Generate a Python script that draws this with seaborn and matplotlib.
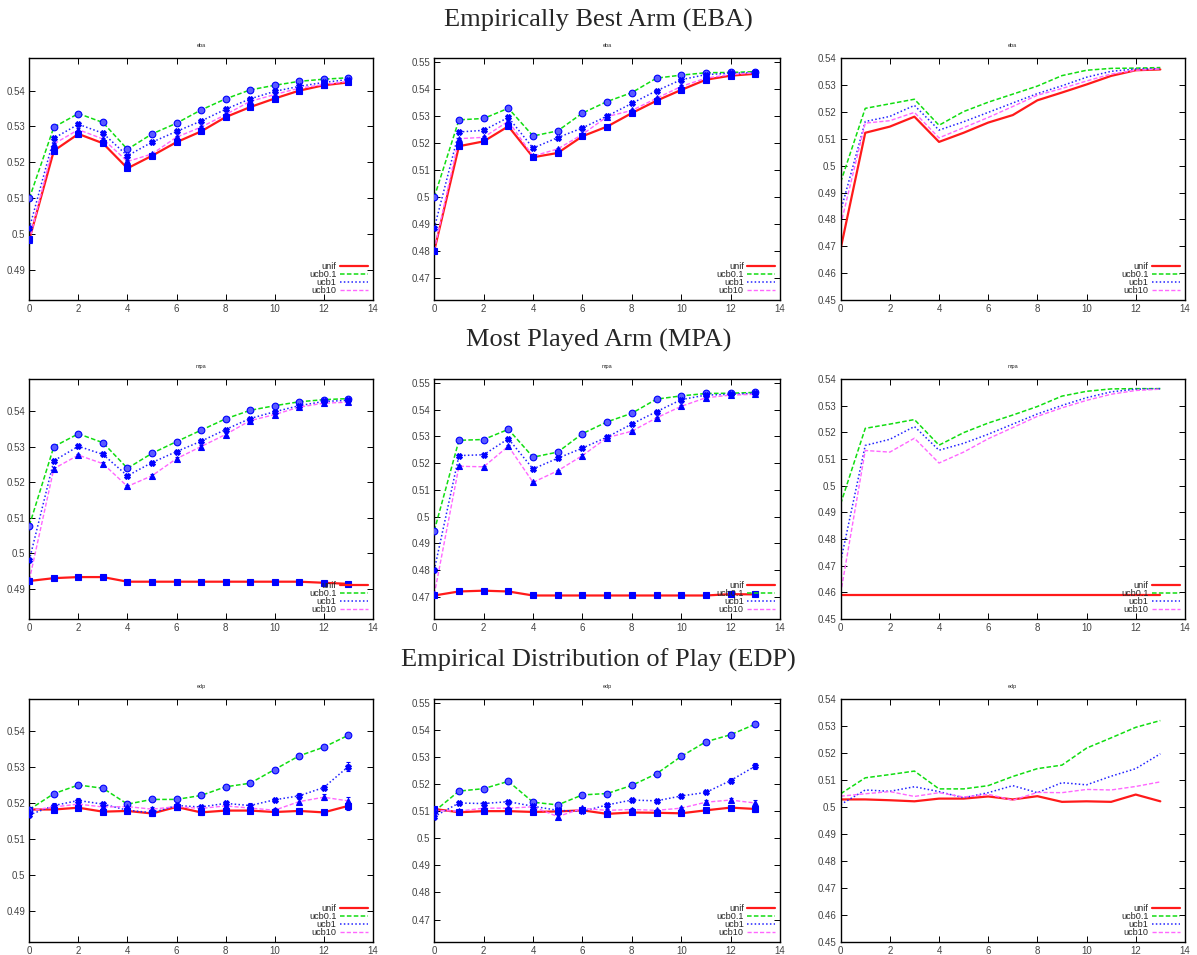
import numpy as np
import pandas as pd
import matplotlib
matplotlib.use("Agg")
import matplotlib.pyplot as plt
from matplotlib.ticker import MultipleLocator, FuncFormatter
import seaborn as sns

sns.set_style("ticks")
plt.rcParams["font.family"] = ["Liberation Sans", "DejaVu Sans"]

steps = list(range(14))
series = ["unif", "ucb0.1", "ucb1", "ucb10"]

# --- Empirically Best Arm ---
eba_a = {
    "unif":   [0.4984, 0.5232, 0.5279, 0.5253, 0.5183, 0.5218, 0.5256, 0.5286, 0.5326, 0.5354, 0.5378, 0.5400, 0.5415, 0.5423],
    "ucb0.1": [0.5099, 0.5298, 0.5336, 0.5311, 0.5236, 0.5279, 0.5309, 0.5346, 0.5377, 0.5402, 0.5415, 0.5426, 0.5432, 0.5436],
    "ucb1":   [0.5015, 0.5267, 0.5306, 0.5281, 0.5218, 0.5256, 0.5286, 0.5315, 0.5348, 0.5377, 0.5398, 0.5412, 0.5423, 0.5431],
    "ucb10":  [0.4982, 0.5251, 0.5291, 0.5265, 0.5202, 0.5223, 0.5270, 0.5298, 0.5333, 0.5370, 0.5389, 0.5407, 0.5417, 0.5426],
}
eba_b = {
    "unif":   [0.4800, 0.5188, 0.5206, 0.5262, 0.5147, 0.5163, 0.5225, 0.5261, 0.5311, 0.5357, 0.5397, 0.5435, 0.5450, 0.5457],
    "ucb0.1": [0.4999, 0.5286, 0.5291, 0.5329, 0.5226, 0.5245, 0.5311, 0.5354, 0.5387, 0.5441, 0.5452, 0.5461, 0.5462, 0.5465],
    "ucb1":   [0.4884, 0.5241, 0.5247, 0.5295, 0.5181, 0.5220, 0.5256, 0.5300, 0.5347, 0.5394, 0.5435, 0.5454, 0.5459, 0.5462],
    "ucb10":  [0.4803, 0.5216, 0.5221, 0.5281, 0.5151, 0.5178, 0.5232, 0.5298, 0.5321, 0.5366, 0.5410, 0.5441, 0.5454, 0.5461],
}
eba_c = {
    "unif":   [0.4691, 0.5123, 0.5146, 0.5183, 0.5089, 0.5123, 0.5161, 0.5189, 0.5244, 0.5273, 0.5303, 0.5335, 0.5356, 0.5359],
    "ucb0.1": [0.4939, 0.5214, 0.5231, 0.5248, 0.5151, 0.5202, 0.5237, 0.5267, 0.5297, 0.5336, 0.5356, 0.5363, 0.5364, 0.5366],
    "ucb1":   [0.4831, 0.5165, 0.5184, 0.5225, 0.5133, 0.5164, 0.5199, 0.5234, 0.5269, 0.5298, 0.5330, 0.5352, 0.5361, 0.5362],
    "ucb10":  [0.4780, 0.5159, 0.5168, 0.5199, 0.5104, 0.5142, 0.5180, 0.5221, 0.5263, 0.5288, 0.5316, 0.5342, 0.5356, 0.5361],
}

# --- Most Played Arm ---
mpa_a = {
    "unif":   [0.4922, 0.4930, 0.4933, 0.4933, 0.4920, 0.4920, 0.4920, 0.4920, 0.4920, 0.4920, 0.4920, 0.4920, 0.4917, 0.4914],
    "ucb0.1": [0.5078, 0.5300, 0.5336, 0.5311, 0.5239, 0.5281, 0.5314, 0.5346, 0.5378, 0.5402, 0.5415, 0.5426, 0.5432, 0.5435],
    "ucb1":   [0.4981, 0.5260, 0.5301, 0.5278, 0.5218, 0.5255, 0.5286, 0.5315, 0.5348, 0.5379, 0.5398, 0.5415, 0.5427, 0.5430],
    "ucb10":  [0.4925, 0.5238, 0.5276, 0.5252, 0.5188, 0.5218, 0.5266, 0.5300, 0.5334, 0.5373, 0.5390, 0.5411, 0.5422, 0.5425],
}
mpa_b = {
    "unif":   [0.4705, 0.4720, 0.4723, 0.4720, 0.4705, 0.4705, 0.4705, 0.4705, 0.4705, 0.4705, 0.4705, 0.4705, 0.4710, 0.4709],
    "ucb0.1": [0.4947, 0.5285, 0.5288, 0.5326, 0.5222, 0.5241, 0.5310, 0.5354, 0.5386, 0.5439, 0.5451, 0.5460, 0.5461, 0.5464],
    "ucb1":   [0.4800, 0.5228, 0.5231, 0.5291, 0.5178, 0.5218, 0.5256, 0.5297, 0.5346, 0.5392, 0.5437, 0.5454, 0.5457, 0.5461],
    "ucb10":  [0.4709, 0.5188, 0.5186, 0.5263, 0.5128, 0.5171, 0.5228, 0.5295, 0.5319, 0.5369, 0.5412, 0.5444, 0.5454, 0.5457],
}
mpa_c = {
    "unif":   [0.4589, 0.4589, 0.4589, 0.4589, 0.4589, 0.4589, 0.4589, 0.4589, 0.4589, 0.4589, 0.4589, 0.4589, 0.4589, 0.4589],
    "ucb0.1": [0.4932, 0.5215, 0.5231, 0.5248, 0.5152, 0.5199, 0.5235, 0.5265, 0.5297, 0.5336, 0.5354, 0.5363, 0.5364, 0.5364],
    "ucb1":   [0.4716, 0.5151, 0.5174, 0.5222, 0.5133, 0.5159, 0.5193, 0.5231, 0.5269, 0.5301, 0.5330, 0.5352, 0.5362, 0.5364],
    "ucb10":  [0.4596, 0.5132, 0.5126, 0.5178, 0.5085, 0.5126, 0.5176, 0.5218, 0.5260, 0.5292, 0.5320, 0.5343, 0.5357, 0.5362],
}

# --- Empirical Distribution of Play ---
edp_a = {
    "unif":   [0.5183, 0.5183, 0.5188, 0.5177, 0.5179, 0.5172, 0.5190, 0.5175, 0.5180, 0.5180, 0.5176, 0.5179, 0.5175, 0.5193],
    "ucb0.1": [0.5183, 0.5227, 0.5251, 0.5242, 0.5198, 0.5211, 0.5211, 0.5222, 0.5246, 0.5256, 0.5294, 0.5332, 0.5356, 0.5389],
    "ucb1":   [0.5168, 0.5194, 0.5208, 0.5198, 0.5181, 0.5174, 0.5194, 0.5190, 0.5200, 0.5194, 0.5210, 0.5221, 0.5244, 0.5302],
    "ucb10":  [0.5180, 0.5190, 0.5198, 0.5190, 0.5191, 0.5184, 0.5191, 0.5186, 0.5193, 0.5187, 0.5181, 0.5205, 0.5217, 0.5207],
}
edp_b = {
    "unif":   [0.5108, 0.5096, 0.5100, 0.5100, 0.5097, 0.5099, 0.5103, 0.5090, 0.5095, 0.5094, 0.5092, 0.5103, 0.5113, 0.5108],
    "ucb0.1": [0.5099, 0.5174, 0.5183, 0.5210, 0.5133, 0.5123, 0.5160, 0.5165, 0.5195, 0.5238, 0.5302, 0.5356, 0.5382, 0.5421],
    "ucb1":   [0.5080, 0.5130, 0.5128, 0.5135, 0.5118, 0.5103, 0.5099, 0.5123, 0.5141, 0.5138, 0.5156, 0.5169, 0.5213, 0.5266],
    "ucb10":  [0.5103, 0.5100, 0.5111, 0.5111, 0.5116, 0.5080, 0.5110, 0.5103, 0.5106, 0.5103, 0.5111, 0.5133, 0.5141, 0.5130],
}
edp_c = {
    "unif":   [0.5028, 0.5028, 0.5025, 0.5021, 0.5031, 0.5031, 0.5039, 0.5028, 0.5040, 0.5019, 0.5021, 0.5019, 0.5046, 0.5021],
    "ucb0.1": [0.5049, 0.5108, 0.5120, 0.5133, 0.5067, 0.5067, 0.5079, 0.5113, 0.5142, 0.5155, 0.5218, 0.5256, 0.5295, 0.5320],
    "ucb1":   [0.5009, 0.5063, 0.5058, 0.5075, 0.5057, 0.5034, 0.5053, 0.5079, 0.5053, 0.5090, 0.5082, 0.5114, 0.5142, 0.5197],
    "ucb10":  [0.5040, 0.5049, 0.5057, 0.5039, 0.5053, 0.5037, 0.5047, 0.5025, 0.5054, 0.5053, 0.5065, 0.5063, 0.5076, 0.5093],
}

# half-width of the error bars (only the first two columns show them)
err_small = 0.0004
err_edp_last = [0.0006, 0.0006, 0.0006, 0.0006, 0.0006, 0.0006, 0.0006, 0.0006, 0.0006, 0.0006, 0.0006, 0.0007, 0.0008, 0.0012]

row_titles = ["Empirically Best Arm (EBA)", "Most Played Arm (MPA)", "Empirical Distribution of Play (EDP)"]
panel_titles = ["eba", "mpa", "edp"]
panels = [[eba_a, eba_b, eba_c], [mpa_a, mpa_b, mpa_c], [edp_a, edp_b, edp_c]]
ylims = [(0.4815, 0.549), (0.4617, 0.5514), (0.45, 0.54)]

colors = {"unif": "#ff1a1a", "ucb0.1": "#11dd11", "ucb1": "#2222ff", "ucb10": "#ff66ff"}
styles = {"unif": "-", "ucb0.1": (0, (3, 1.5)), "ucb1": (0, (1, 1.5)), "ucb10": (0, (3, 1.5))}
widths = {"unif": 1.6, "ucb0.1": 1.1, "ucb1": 1.1, "ucb10": 1.0}
markers = {"unif": "s", "ucb0.1": "o", "ucb1": "X", "ucb10": "^"}

fig = plt.figure(figsize=(11.97, 9.55), dpi=100)
lefts = [0.0245, 0.3628, 0.7023]
col_w = [0.2869, 0.2888, 0.2876]
bottoms = [0.6859, 0.3518, 0.0136]
row_h = [0.2529, 0.2513, 0.2545]
title_y = [0.979, 0.644, 0.309]

for r in range(3):
    fig.text(0.5, title_y[r], row_titles[r], ha="center", va="center",
             fontsize=19, family=["Liberation Serif", "DejaVu Serif"])
    for c in range(3):
        ax = fig.add_axes([lefts[c], bottoms[r], col_w[c], row_h[r]])
        data = panels[r][c]
        for s in series:
            df = pd.DataFrame({"step": steps, "val": data[s]})
            sns.lineplot(data=df, x="step", y="val", ax=ax, color=colors[s],
                         linestyle=styles[s], linewidth=widths[s], label=s, zorder=2)
        if c < 2:
            for s in series:
                err = err_edp_last if (r == 2 and s != "ucb0.1") else err_small
                ax.errorbar(steps, data[s], yerr=err, fmt=markers[s], color="#0000ff",
                            markersize=4.2 if s != "ucb0.1" else 4.8,
                            markerfacecolor="#0000ff" if s != "ucb0.1" else "#5a5aff",
                            markeredgewidth=0.8, elinewidth=0.7, capsize=1.5,
                            zorder=3)
        ax.set_xlim(0, 14)
        ax.set_ylim(*ylims[c])
        ax.xaxis.set_major_locator(MultipleLocator(2))
        ax.yaxis.set_major_locator(MultipleLocator(0.01))
        ax.yaxis.set_major_formatter(FuncFormatter(lambda v, p: "%g" % round(v, 3)))
        ax.tick_params(direction="in", length=4, width=0.7, labelsize=7,
                       top=True, right=True, colors="black", labelcolor="#444444", pad=3)
        ax.set_xlabel("")
        ax.set_ylabel("")
        for sp in ax.spines.values():
            sp.set_linewidth(1.0)
            sp.set_color("black")
        ax.set_title(panel_titles[r], fontsize=4, pad=8)
        ax.legend(loc="lower right", frameon=False, fontsize=6.6, markerfirst=False,
                  handlelength=3.0, labelspacing=-0.12, borderaxespad=0.25,
                  handletextpad=0.4, borderpad=0.3)

fig.savefig("out.png", dpi=100)
